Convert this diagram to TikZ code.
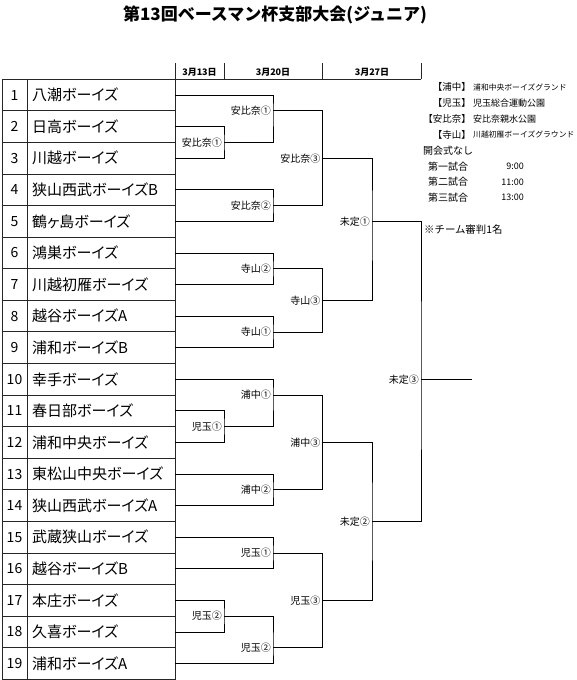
\documentclass[tikz,border=0pt]{standalone}
\usepackage{fontspec}
\setmainfont{Noto Sans CJK JP}
\newfontfamily\jp{Noto Sans CJK JP}
\newfontfamily\jpp[RawFeature=+palt]{Noto Sans CJK JP}
\def\h{15.79}
\tikzset{
  br/.style={line width=0.8pt, black},
  tbl/.style={line width=0.9pt, black!85},
  teamname/.style={anchor=west, inner sep=0pt, font=\jpp\fontsize{15}{15}\selectfont},
  teamnum/.style={inner sep=0pt, font=\jp\fontsize{14}{14}\selectfont},
  lab/.style={anchor=east, inner sep=0pt, font=\jp\fontsize{10}{10}\selectfont},
  hdr/.style={inner sep=0pt, font=\jp\bfseries\fontsize{9}{9}\selectfont},
  lgk/.style={anchor=east, inner sep=0pt, font=\jp\fontsize{9.5}{9.5}\selectfont},
  lgv/.style={anchor=west, inner sep=0pt, font=\jp\fontsize{9}{9}\selectfont},
  lgs/.style={anchor=west, inner sep=0pt, font=\jp\fontsize{7.8}{7.8}\selectfont},
  game/.style={anchor=west, inner sep=0pt, font=\jp\fontsize{10}{10}\selectfont},
  note/.style={anchor=west, inner sep=0pt, font=\jp\fontsize{10}{10}\selectfont},
  tm/.style={anchor=east, inner sep=0pt, font=\jp\fontsize{9}{9}\selectfont}
}
\begin{document}
\begin{tikzpicture}[x=1pt,y=-1pt]
\useasboundingbox (0,0) rectangle (576,680);
% title
\node[font=\jp\bfseries\fontsize{17}{17}\selectfont, inner sep=0pt] (title) at (275,15) {第13回ベースマン杯支部大会(ジュニア)};
% header
\draw[tbl] (2,79.3) -- (421,79.3);
\draw[tbl] (175,63) -- (175,79.3);
\draw[tbl] (224,63) -- (224,79.3);
\draw[tbl] (322.5,63) -- (322.5,79.3);
\draw[tbl] (421,63) -- (421,79.3);
\node[hdr] (h1) at (199.5,72) {3月13日};
\node[hdr] (h2) at (273,72) {3月20日};
\node[hdr] (h3) at (372,72) {3月27日};
% table
\draw[tbl] (2,79.3) rectangle (175,{79.3+38*\h});
\draw[tbl] (27,79.3) -- (27,{79.3+38*\h});
\foreach \i in {1,...,18} { \draw[tbl] (2,{79.3+2*\i*\h}) -- (175,{79.3+2*\i*\h}); }
\foreach \i/\t in {1/八潮ボーイズ,2/日高ボーイズ,3/川越ボーイズ,4/狭山西武ボーイズB,5/鶴ヶ島ボーイズ,6/鴻巣ボーイズ,7/川越初雁ボーイズ,8/越谷ボーイズA,9/浦和ボーイズB,10/幸手ボーイズ,11/春日部ボーイズ,12/浦和中央ボーイズ,13/東松山中央ボーイズ,14/狭山西武ボーイズA,15/武蔵狭山ボーイズ,16/越谷ボーイズB,17/本庄ボーイズ,18/久喜ボーイズ,19/浦和ボーイズA} {
  \node[teamnum] (n\i) at (14.5,{79.3+(2*\i-1)*\h}) {\i};
  \node[teamname] (tn\i) at (32,{79.3+(2*\i-1)*\h}) {\t};
  \coordinate (t\i) at (175,{79.3+(2*\i-1)*\h});
}
% match points
\coordinate (a1) at (224,{79.3+4*\h});
\coordinate (a2) at (224,{79.3+22*\h});
\coordinate (a3) at (224,{79.3+34*\h});
\coordinate (b1) at (273,{79.3+2*\h});
\coordinate (b2) at (273,{79.3+8*\h});
\coordinate (b3) at (273,{79.3+12*\h});
\coordinate (b4) at (273,{79.3+16*\h});
\coordinate (b5) at (273,{79.3+20*\h});
\coordinate (b6) at (273,{79.3+26*\h});
\coordinate (b7) at (273,{79.3+30*\h});
\coordinate (b8) at (273,{79.3+36*\h});
\coordinate (c1) at (322.5,{79.3+5*\h});
\coordinate (c2) at (322.5,{79.3+14*\h});
\coordinate (c3) at (322.5,{79.3+23*\h});
\coordinate (c4) at (322.5,{79.3+33*\h});
\coordinate (d1) at (372,{79.3+9*\h});
\coordinate (d2) at (372,{79.3+28*\h});
\coordinate (e1) at (421,{79.3+19*\h});
\coordinate (f1) at (472,{79.3+19*\h});
% round 1
\draw[br] (t2) -| (a1) |- (t3);
\draw[br] (t11) -| (a2) |- (t12);
\draw[br] (t17) -| (a3) |- (t18);
% round 2
\draw[br] (t1) -| (b1) |- (a1);
\draw[br] (t4) -| (b2) |- (t5);
\draw[br] (t6) -| (b3) |- (t7);
\draw[br] (t8) -| (b4) |- (t9);
\draw[br] (t10) -| (b5) |- (a2);
\draw[br] (t13) -| (b6) |- (t14);
\draw[br] (t15) -| (b7) |- (t16);
\draw[br] (a3) -| (b8) |- (t19);
% round 3
\draw[br] (b1) -| (c1) |- (b2);
\draw[br] (b3) -| (c2) |- (b4);
\draw[br] (b5) -| (c3) |- (b6);
\draw[br] (b7) -| (c4) |- (b8);
% round 4
\draw[br] (c1) -| (d1) |- (c2);
\draw[br] (c3) -| (d2) |- (c4);
% final
\draw[br] (d1) -| (e1) |- (d2);
\draw[br] (e1) -- (f1);
% labels
\node[lab] (la1) at ([xshift=-2pt]a1) {安比奈①};
\node[lab] (la2) at ([xshift=-2pt]a2) {児玉①};
\node[lab] (la3) at ([xshift=-2pt]a3) {児玉②};
\node[lab] (lb1) at ([xshift=-2pt]b1) {安比奈①};
\node[lab] (lb2) at ([xshift=-2pt]b2) {安比奈②};
\node[lab] (lb3) at ([xshift=-2pt]b3) {寺山②};
\node[lab] (lb4) at ([xshift=-2pt]b4) {寺山①};
\node[lab] (lb5) at ([xshift=-2pt]b5) {浦中①};
\node[lab] (lb6) at ([xshift=-2pt]b6) {浦中②};
\node[lab] (lb7) at ([xshift=-2pt]b7) {児玉①};
\node[lab] (lb8) at ([xshift=-2pt]b8) {児玉②};
\node[lab] (lc1) at ([xshift=-2pt]c1) {安比奈③};
\node[lab] (lc2) at ([xshift=-2pt]c2) {寺山③};
\node[lab] (lc3) at ([xshift=-2pt]c3) {浦中③};
\node[lab] (lc4) at ([xshift=-2pt]c4) {児玉③};
\node[lab] (ld1) at ([xshift=-2pt]d1) {未定①};
\node[lab] (ld2) at ([xshift=-2pt]d2) {未定②};
\node[lab] (le1) at ([xshift=-2pt]e1) {未定③};
% legend
\node[lgk] (k1) at (471,87.2) {【浦中】};
\node[lgs] (v1) at (473,87.2) {浦和中央ボーイズグランド};
\node[lgk] (k2) at (471,103) {【児玉】};
\node[lgv] (v2) at (473,103) {児玉総合運動公園};
\node[lgk] (k3) at (471,118.8) {【安比奈】};
\node[lgv] (v3) at (473,118.8) {安比奈親水公園};
\node[lgk] (k4) at (471,134.5) {【寺山】};
\node[lgs] (v4) at (473,134.5) {川越初雁ボーイズグラウンド};
\node[note] (o1) at (423,151) {開会式なし};
\node[game] (g1) at (428,166.3) {第一試合};
\node[tm] (g1t) at (524,166.3) {9:00};
\node[game] (g2) at (428,182) {第二試合};
\node[tm] (g2t) at (524,182) {11:00};
\node[game] (g3) at (428,197.7) {第三試合};
\node[tm] (g3t) at (524,197.7) {13:00};
\node[note, font=\jp\fontsize{10.4}{10.4}\selectfont] (nt) at (424,229.3) {※チーム審判1名};
\end{tikzpicture}
\end{document}
